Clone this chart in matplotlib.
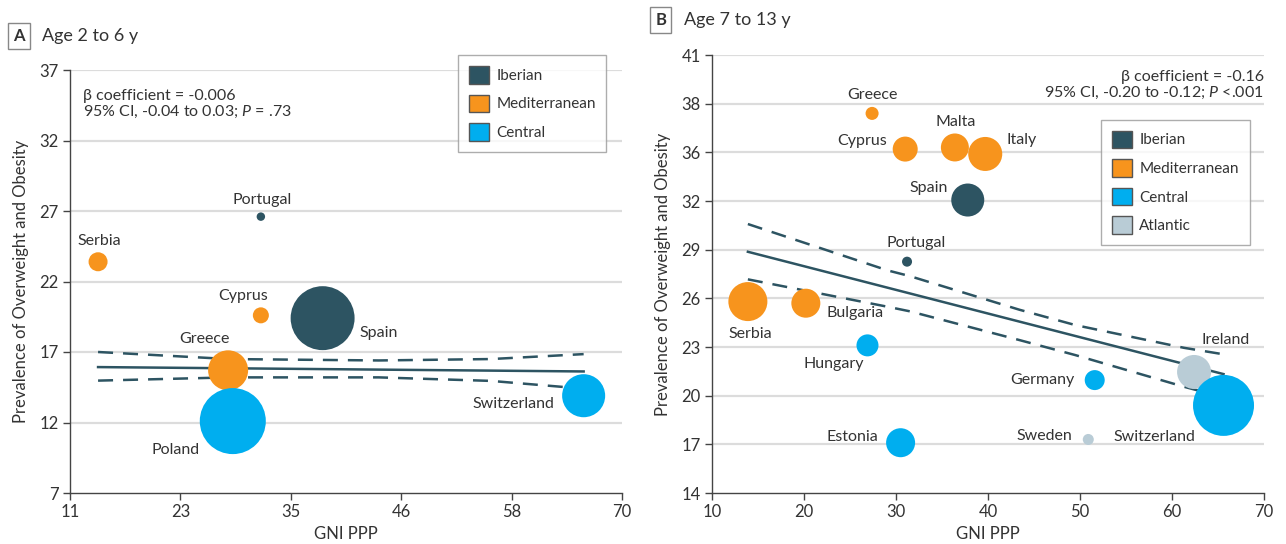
import matplotlib
matplotlib.use("Agg")
import matplotlib.pyplot as plt
from matplotlib.patches import Patch

plt.rcParams['font.family'] = ['Lato', 'DejaVu Sans']
plt.rcParams['mathtext.fontset'] = 'custom'
plt.rcParams['mathtext.it'] = 'Lato:italic'
plt.rcParams['mathtext.rm'] = 'Lato'

# colours per region
colors = {"Iberian": "#2d5462", "Mediterranean": "#f7941d",
          "Central": "#00aeef", "Atlantic": "#b9ccd6"}
line_color = "#2d5462"
text_color = "#333333"

# Panel A: age 2 to 6 y
countries_a = ["Serbia", "Portugal", "Cyprus", "Spain", "Greece", "Poland", "Switzerland"]
region_a = ["Mediterranean", "Iberian", "Mediterranean", "Iberian", "Mediterranean", "Central", "Central"]
gni_a = [14.0, 31.4, 31.4, 38.0, 27.9, 28.4, 65.9]
prev_a = [23.4, 26.6, 19.6, 19.4, 15.7, 12.1, 13.9]
n_a = [187, 37, 133, 2120, 830, 2260, 960]
label_off_a = [(1, 21), (1, 17), (-18, 19), (56, -15), (-24, 31), (-57, -29), (-70, -8)]

fit_x_a = [14.0, 65.9]
fit_y_a = [15.93, 15.62]
ci_x_a = [14.0, 28.0, 44.0, 56.0, 65.9]
ci_hi_a = [17.0, 16.5, 16.4, 16.5, 16.85]
ci_lo_a = [14.97, 15.2, 15.2, 14.95, 14.4]

# Panel B: age 7 to 13 y
countries_b = ["Greece", "Cyprus", "Malta", "Italy", "Spain", "Portugal", "Serbia", "Bulgaria",
               "Hungary", "Germany", "Ireland", "Switzerland", "Sweden", "Estonia"]
region_b = ["Mediterranean", "Mediterranean", "Mediterranean", "Mediterranean", "Iberian", "Iberian",
            "Mediterranean", "Mediterranean", "Central", "Central", "Atlantic", "Central",
            "Atlantic", "Central"]
gni_b = [27.4, 31.0, 36.4, 39.7, 37.8, 31.2, 13.9, 20.2, 26.9, 51.6, 62.4, 65.6, 50.9, 30.5]
prev_b = [37.4, 35.2, 35.3, 34.9, 32.06, 28.26, 25.8, 25.7, 23.1, 20.96, 21.46, 19.4, 17.3, 17.1]
n_b = [88, 324, 406, 600, 565, 52, 789, 436, 251, 207, 600, 1929, 63, 436]
label_off_b = [(0, 18), (-43, 8), (1, 25), (36, 14), (-39, 12), (9, 19), (2, -32), (49, -10),
               (-34, -19), (-52, 0), (32, 32), (-69, -32), (-44, 3), (-48, 6)]

fit_x_b = [13.9, 65.6]
fit_y_b = [28.87, 21.33]
ci_x_b = [13.9, 29.1, 31.5, 43.4, 49.5, 61.3, 65.6]
ci_hi_b = [30.58, 27.72, 27.37, 25.3, 24.35, 22.95, 22.55]
ci_lo_b = [27.17, 25.48, 25.2, 23.43, 22.5, 20.55, 19.9]

yticks_a = [7, 12, 17, 22, 27, 32, 37]
xtick_pos_a = [11, 22.8, 34.6, 46.4, 58.2, 70]
xtick_lab_a = ["11", "23", "35", "46", "58", "70"]
ytick_pos_b = [14, 17, 20, 23, 26, 29, 32, 35, 38, 41]
ytick_lab_b = ["14", "17", "20", "23", "26", "29", "32", "36", "38", "41"]
xticks_b = [10, 20, 30, 40, 50, 60, 70]

fig = plt.figure(figsize=(12.86, 5.44), dpi=100)
ax_a = fig.add_axes([70 / 1286, 51 / 544, 552 / 1286, 423 / 544])
ax_b = fig.add_axes([712 / 1286, 51 / 544, 552 / 1286, 438 / 544])


def style_axes(ax, xlim, ylim, xt, xl, yt, yl):
    ax.set_xlim(xlim)
    ax.set_ylim(ylim)
    ax.set_xticks(xt)
    ax.set_xticklabels(xl)
    ax.set_yticks(yt)
    ax.set_yticklabels(yl)
    for y in yt[1:]:
        ax.axhline(y, color="#dcdcdc", lw=1.6, zorder=0)
    for s in ["top", "right"]:
        ax.spines[s].set_visible(False)
    for s in ["left", "bottom"]:
        ax.spines[s].set_color("#444444")
        ax.spines[s].set_linewidth(1.0)
    ax.tick_params(colors="#444444", labelcolor=text_color, labelsize=12, length=5, width=1, pad=3)
    ax.set_xlabel("GNI PPP", fontsize=12, color=text_color, labelpad=4)
    ax.set_ylabel("Prevalence of Overweight and Obesity", fontsize=12, color=text_color, labelpad=8)


def draw_panel(ax, names, regions, gx, py, n, offs, fx, fy, cx, chi, clo):
    ax.plot(fx, fy, color=line_color, lw=1.8, zorder=2)
    ax.plot(cx, chi, color=line_color, lw=1.8, ls=(0, (6, 4)), zorder=2)
    ax.plot(cx, clo, color=line_color, lw=1.8, ls=(0, (6, 4)), zorder=2)
    ax.scatter(gx, py, s=n, c=[colors[r] for r in regions], linewidths=0, zorder=3)
    for name, x, y, off in zip(names, gx, py, offs):
        ax.annotate(name, (x, y), xytext=off, textcoords="offset pixels",
                    ha="center", va="center", fontsize=11.5, color=text_color, zorder=4)


style_axes(ax_a, (11, 70), (7, 37), xtick_pos_a, xtick_lab_a, yticks_a, [str(v) for v in yticks_a])
style_axes(ax_b, (10, 70), (14, 41), xticks_b, [str(v) for v in xticks_b], ytick_pos_b, ytick_lab_b)

draw_panel(ax_a, countries_a, region_a, gni_a, prev_a, n_a, label_off_a,
           fit_x_a, fit_y_a, ci_x_a, ci_hi_a, ci_lo_a)
draw_panel(ax_b, countries_b, region_b, gni_b, prev_b, n_b, label_off_b,
           fit_x_b, fit_y_b, ci_x_b, ci_hi_b, ci_lo_b)

# statistics text
ax_a.text(0.024, 0.955, "β coefficient = -0.006\n95% CI, -0.04 to 0.03; $P$ = .73",
          transform=ax_a.transAxes, ha="left", va="top", fontsize=11.5, color=text_color,
          linespacing=1.05)
ax_b.text(1.0, 0.965, "β coefficient = -0.16\n95% CI, -0.20 to -0.12; $P$ <.001",
          transform=ax_b.transAxes, ha="right", va="top", fontsize=11.5, color=text_color,
          linespacing=1.05)

# legends
def add_legend(ax, regions, anchor):
    handles = [Patch(facecolor=colors[r], edgecolor="#555555", lw=1, label=r) for r in regions]
    leg = ax.legend(handles=handles, loc="upper left", bbox_to_anchor=anchor, borderaxespad=0,
                    fontsize=11, frameon=True, fancybox=False, handlelength=1.35, handleheight=1.4,
                    labelspacing=0.72, borderpad=0.7, handletextpad=0.45, labelcolor=text_color)
    leg.get_frame().set_edgecolor("#999999")
    leg.get_frame().set_linewidth(1.0)
    leg.set_zorder(5)


add_legend(ax_a, ["Iberian", "Mediterranean", "Central"], (0.703, 1.035))
add_legend(ax_b, ["Iberian", "Mediterranean", "Central", "Atlantic"], (0.705, 0.852))

# panel labels
box = dict(boxstyle="square,pad=0.3", fc="white", ec="#888888", lw=1)
fig.text(19 / 1286, 1 - 36 / 544, "A", fontsize=12, fontweight="bold", color=text_color,
         ha="center", va="center", bbox=box)
fig.text(42 / 1286, 1 - 36 / 544, "Age 2 to 6 y", fontsize=13, color=text_color, ha="left", va="center")
fig.text(661 / 1286, 1 - 20 / 544, "B", fontsize=12, fontweight="bold", color=text_color,
         ha="center", va="center", bbox=box)
fig.text(684 / 1286, 1 - 20 / 544, "Age 7 to 13 y", fontsize=13, color=text_color, ha="left", va="center")

fig.savefig("out.png", dpi=100)
